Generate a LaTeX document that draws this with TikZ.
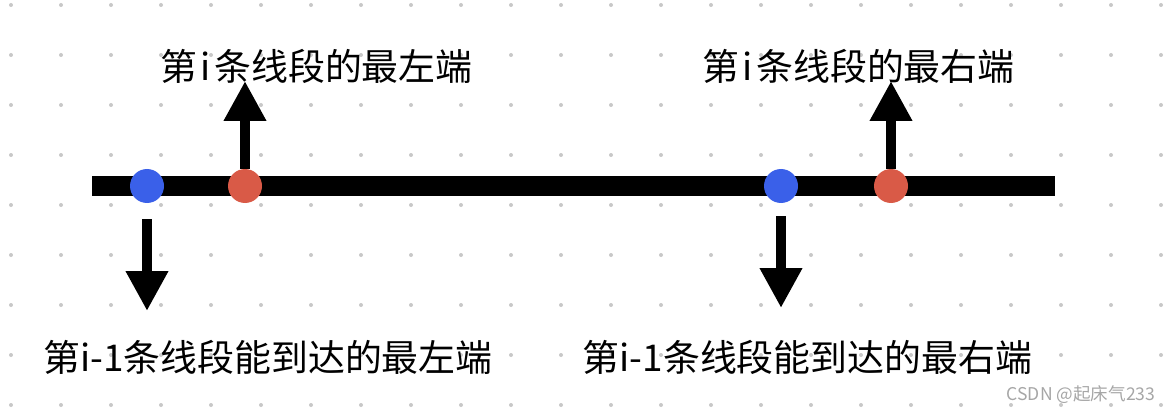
\documentclass[tikz,border=0pt]{standalone}
\usepackage{fontspec}
\setmainfont{Noto Sans CJK SC}
\usepackage{tikz}
\usetikzlibrary{arrows.meta}
\usepackage{xcolor}
\definecolor{dotblue}{HTML}{3A60E9}
\definecolor{dotred}{HTML}{D95A47}
\definecolor{gridgray}{HTML}{C8C8C8}

\begin{document}
\begin{tikzpicture}[>={Triangle[length=8mm,width=8mm]},font=\fontsize{21}{25}\selectfont,
  pt/.style={circle,inner sep=0pt,minimum size=6.8mm},
  lbl/.style={inner sep=0pt},
  arr/.style={->,line width=2mm}]
\useasboundingbox (0,0) rectangle (23.44,8.28);
\foreach \i in {0,...,23} \foreach \j in {0,...,8} \fill[gridgray] (0.22+\i,0.18+\j) circle (0.04);
\coordinate (segL) at (1.84,4.56);
\coordinate (segR) at (21.1,4.56);
\draw[line width=4mm] (segL) -- (segR);
\node[pt,fill=dotblue] (b1) at (2.94,4.56) {};
\node[pt,fill=dotred] (r1) at (4.9,4.56) {};
\node[pt,fill=dotblue] (b2) at (15.62,4.56) {};
\node[pt,fill=dotred] (r2) at (17.82,4.56) {};
\coordinate (up1) at (4.9,6.66);
\coordinate (up2) at (17.82,6.66);
\coordinate (dn1) at (2.94,2.06);
\coordinate (dn2) at (15.62,2.12);
\draw[arr] (r1.north) -- (up1);
\draw[arr] (r2.north) -- (up2);
\draw[arr] ([yshift=-3.2mm]b1.south) -- (dn1);
\draw[arr] ([yshift=-2.6mm]b2.south) -- (dn2);
\node[lbl] (t1) at (6.33,6.96) {第\kern2pt i\kern2pt 条线段的最左端};
\node[lbl] (t2) at (17.17,6.96) {第\kern2pt i\kern2pt 条线段的最右端};
\node[lbl] (t3) at (5.36,1.14) {第i-1条线段能到达的最左端};
\node[lbl] (t4) at (16.15,1.14) {第i-1条线段能到达的最右端};
\node[lbl,text=gray!70,font=\fontsize{10}{12}\selectfont] (mark) at (21.62,0.38) {CSDN @起床气233};
\end{tikzpicture}
\end{document}
